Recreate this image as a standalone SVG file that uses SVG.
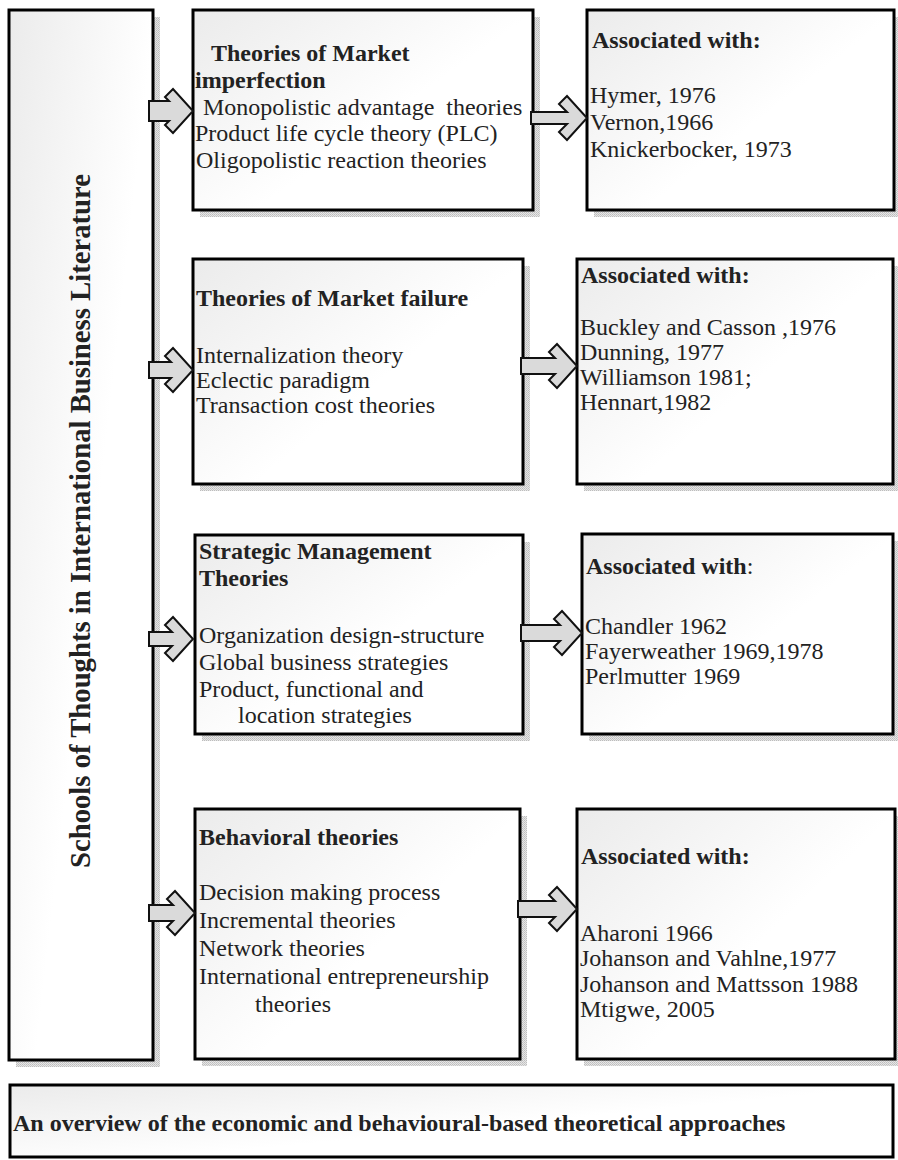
<svg xmlns="http://www.w3.org/2000/svg" width="898" height="1160" viewBox="0 0 898 1160">
  <defs>
    <linearGradient id="boxFill" x1="0" y1="0" x2="0.6" y2="0.5">
      <stop offset="0" stop-color="#ebebeb"/>
      <stop offset="1" stop-color="#ffffff"/>
    </linearGradient>
    <pattern id="shadowDots" width="2" height="2" patternUnits="userSpaceOnUse">
      <rect width="2" height="2" fill="#e6e6e6"/>
      <rect width="1" height="1" fill="#bdbdbd"/>
      <rect x="1" y="1" width="1" height="1" fill="#c8c8c8"/>
    </pattern>
    <style>
      .shadow { fill: url(#shadowDots); }
      .box { fill: url(#boxFill); stroke: #000; stroke-width: 3; }
      .txt { font-family: "Liberation Serif", "Times New Roman", serif; font-size: 24px; fill: #222; }
      .b { font-weight: bold; }
      .pre { white-space: pre; }
      .arrow { fill: #dadada; stroke: #111; stroke-width: 2; stroke-linejoin: miter; }
    </style>
  </defs>

  <rect width="898" height="1160" fill="#ffffff"/>

  <!-- left column: overall heading -->
  <g id="schools">
    <rect class="shadow" x="16" y="17" width="144" height="1050"/>
    <rect class="box" x="9" y="10" width="144" height="1050"/>
    <text class="txt b" transform="translate(90,521) rotate(-90)" text-anchor="middle" style="font-size:28.7px">Schools of Thoughts in International Business Literature</text>
  </g>

  <!-- market imperfection -->
  <g id="imperfection">
    <rect class="shadow" x="200" y="17" width="340" height="200"/>
    <rect class="box" x="193" y="10" width="340" height="200"/>
    <text class="txt">
      <tspan class="b" x="211" y="61">Theories of Market</tspan>
      <tspan class="b" x="195" y="88">imperfection</tspan>
      <tspan class="pre" x="203" y="115">Monopolistic advantage  theories</tspan>
      <tspan x="195" y="141">Product life cycle theory (PLC)</tspan>
      <tspan x="196" y="168">Oligopolistic reaction theories</tspan>
    </text>
  </g>
  <g id="imperfection-authors">
    <rect class="shadow" x="594" y="17" width="307" height="200"/>
    <rect class="box" x="587" y="10" width="307" height="200"/>
    <text class="txt">
      <tspan class="b" x="592" y="48">Associated with:</tspan>
      <tspan x="590" y="103">Hymer, 1976</tspan>
      <tspan x="590" y="130">Vernon,1966</tspan>
      <tspan x="590" y="157">Knickerbocker, 1973</tspan>
    </text>
  </g>

  <!-- market failure -->
  <g id="failure">
    <rect class="shadow" x="200" y="266" width="330" height="225"/>
    <rect class="box" x="193" y="259" width="330" height="225"/>
    <text class="txt">
      <tspan class="b" x="196" y="306">Theories of Market failure</tspan>
      <tspan x="196" y="363">Internalization theory</tspan>
      <tspan x="196" y="388">Eclectic paradigm</tspan>
      <tspan x="196" y="413">Transaction cost theories</tspan>
    </text>
  </g>
  <g id="failure-authors">
    <rect class="shadow" x="584" y="266" width="316" height="225"/>
    <rect class="box" x="577" y="259" width="316" height="225"/>
    <text class="txt">
      <tspan class="b" x="581" y="283">Associated with:</tspan>
      <tspan x="580" y="335">Buckley and Casson ,1976</tspan>
      <tspan x="580" y="360">Dunning, 1977</tspan>
      <tspan x="580" y="385">Williamson 1981;</tspan>
      <tspan x="580" y="410">Hennart,1982</tspan>
    </text>
  </g>

  <!-- strategic management -->
  <g id="strategic">
    <rect class="shadow" x="202" y="542" width="328" height="199"/>
    <rect class="box" x="195" y="535" width="328" height="199"/>
    <text class="txt">
      <tspan class="b" x="199" y="559">Strategic Management</tspan>
      <tspan class="b" x="199" y="586">Theories</tspan>
      <tspan x="199" y="643">Organization design-structure</tspan>
      <tspan x="199" y="670">Global business strategies</tspan>
      <tspan x="199" y="697">Product, functional and</tspan>
      <tspan x="238" y="723">location strategies</tspan>
    </text>
  </g>
  <g id="strategic-authors">
    <rect class="shadow" x="589" y="541" width="311" height="200"/>
    <rect class="box" x="582" y="534" width="311" height="200"/>
    <text class="txt">
      <tspan x="586" y="574"><tspan class="b">Associated with</tspan>:</tspan>
      <tspan x="585" y="634">Chandler 1962</tspan>
      <tspan x="585" y="659">Fayerweather 1969,1978</tspan>
      <tspan x="585" y="684">Perlmutter 1969</tspan>
    </text>
  </g>

  <!-- behavioral -->
  <g id="behavioral">
    <rect class="shadow" x="202" y="816" width="325" height="250"/>
    <rect class="box" x="195" y="809" width="325" height="250"/>
    <text class="txt">
      <tspan class="b" x="199" y="845">Behavioral theories</tspan>
      <tspan x="199" y="900">Decision making process</tspan>
      <tspan x="199" y="928">Incremental theories</tspan>
      <tspan x="199" y="956">Network theories</tspan>
      <tspan x="199" y="984">International entrepreneurship</tspan>
      <tspan x="255" y="1012">theories</tspan>
    </text>
  </g>
  <g id="behavioral-authors">
    <rect class="shadow" x="584" y="816" width="318" height="250"/>
    <rect class="box" x="577" y="809" width="318" height="250"/>
    <text class="txt">
      <tspan class="b" x="581" y="864">Associated with:</tspan>
      <tspan x="580" y="941">Aharoni 1966</tspan>
      <tspan x="580" y="966">Johanson and Vahlne,1977</tspan>
      <tspan x="580" y="992">Johanson and Mattsson 1988</tspan>
      <tspan x="580" y="1017">Mtigwe, 2005</tspan>
    </text>
  </g>

  <!-- caption -->
  <g id="caption">
    <rect class="box" x="10" y="1085" width="883" height="72"/>
    <text class="txt b" x="13" y="1131">An overview of the economic and behavioural-based theoretical approaches</text>
  </g>

  <!-- block arrows -->
  <g id="connectors">
    <polygon class="arrow" points="149,101 169,101 165,97 173,89 193,111 173,133 165,125 169,121 149,121"/>
    <polygon class="arrow" points="149,362 171,362 165,356 173,348 193,370 173,392 165,384 171,378 149,378"/>
    <polygon class="arrow" points="149,632 172,632 165,625 173,617 193,639 173,661 165,653 172,646 149,646"/>
    <polygon class="arrow" points="149,905 173,905 167,899 175,891 195,913 175,935 167,927 173,921 149,921"/>
    <polygon class="arrow" points="531,112 567,112 559,104 567,96 587,118 567,140 559,132 567,124 531,124"/>
    <polygon class="arrow" points="521,358 555,358 549,352 557,344 577,366 557,388 549,380 555,374 521,374"/>
    <polygon class="arrow" points="521,625 560,625 554,619 562,611 582,633 562,655 554,647 560,641 521,641"/>
    <polygon class="arrow" points="518,901 555,901 549,895 557,887 577,909 557,931 549,923 555,917 518,917"/>
  </g>
</svg>
